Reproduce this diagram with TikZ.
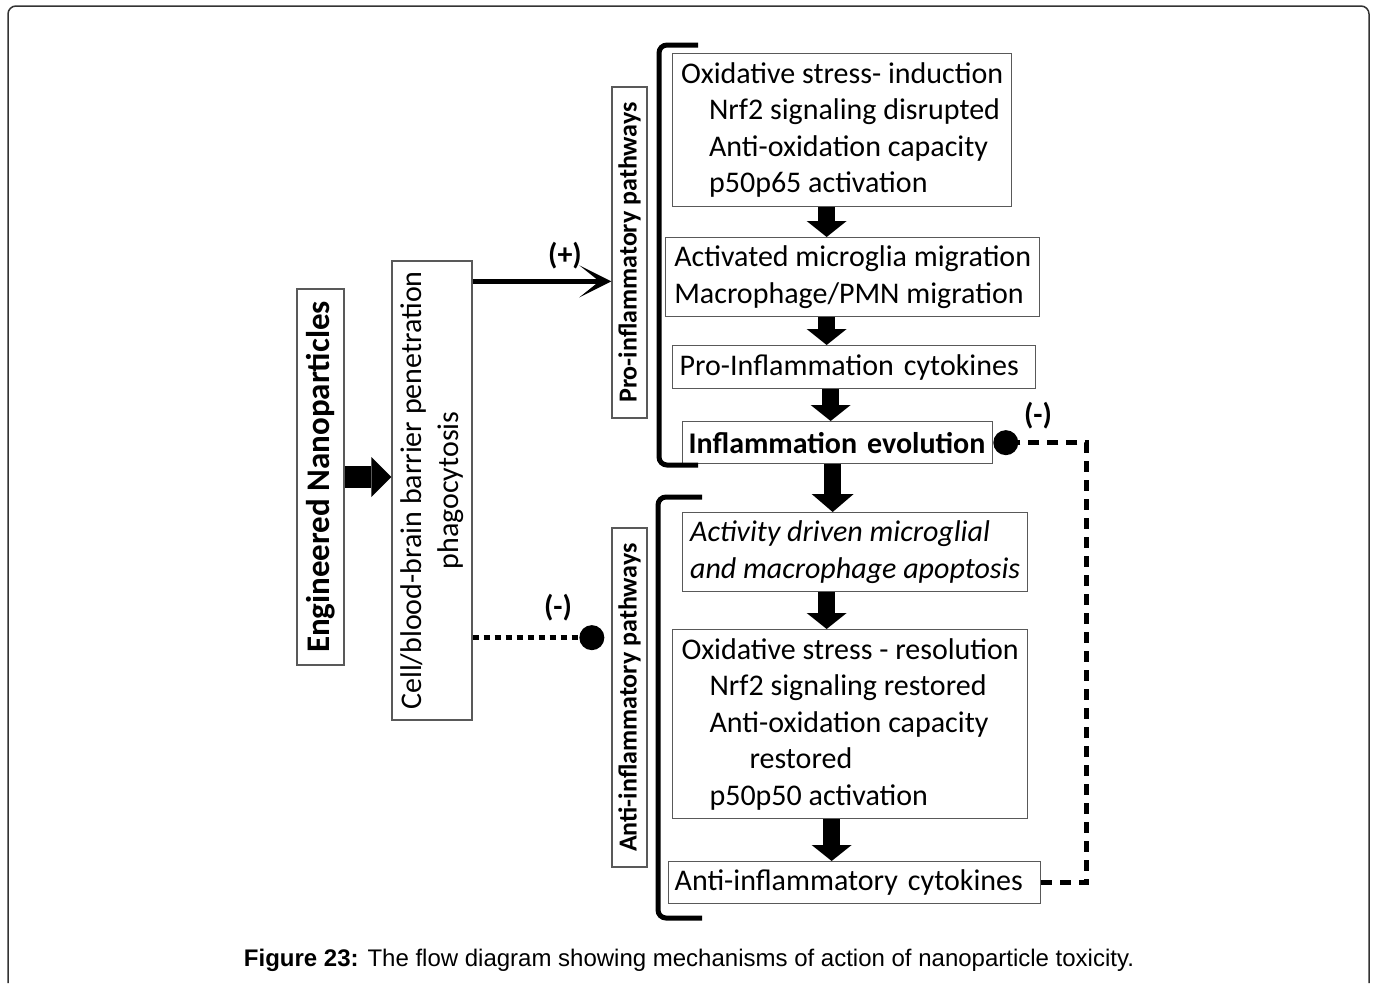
\documentclass[tikz,border=0pt]{standalone}
\usepackage{fontspec}
\setmainfont{Carlito}
\newfontfamily\capfont{Liberation Sans}
\usepackage{tikz}
\usetikzlibrary{arrows.meta, positioning, calc}
\tikzset{
  stepbox/.style={rectangle, draw=black!65, line width=1.3pt, inner xsep=7pt, inner ysep=0pt, align=left, anchor=north west, font=\fontsize{30}{36.5}\selectfont},
  sidebox/.style={rectangle, draw=black!65, line width=1.3pt, inner sep=0pt, rotate=90, align=center, font=\fontsize{30}{36.5}\selectfont},
  pathbox/.style={sidebox, minimum height=35pt, font=\fontsize{26}{30}\selectfont\bfseries},
  blockarr/.style={line width=17pt, -{Triangle[length=16pt, width=40pt, line width=0pt]}},
  actarr/.style={line width=5pt, -{Stealth[length=32pt, width=32pt, inset=20pt]}},
  inhib/.style={line width=5pt, -{Circle[length=25pt, line width=0pt]}},
  signlbl/.style={font=\fontsize{30}{36}\selectfont\bfseries, inner sep=0pt},
  bracket/.style={line width=5pt, rounded corners=8pt},
}
\begin{document}
\begin{tikzpicture}[x=1pt, y=-1pt]
  \useasboundingbox (0,0) rectangle (1375,983);
  % frame round the figure
  \draw[black!80, line width=1.5pt, rounded corners=8pt] (8,983) -- (8,6) -- (1369,6) -- (1369,983);

  % left column
  \node[sidebox, minimum width=376pt, minimum height=47pt, font=\fontsize{33}{40}\selectfont\bfseries] (eng) at (320.5,477) {Engineered Nanoparticles};
  \node[sidebox, minimum width=459pt, minimum height=80pt] (cell) at (432,490.5) {Cell/blood-brain barrier penetration\\phagocytosis};
  \node[pathbox, minimum width=331pt] (pro) at (629.5,252.5) {Pro-inflammatory pathways};
  \node[pathbox, minimum width=339pt] (anti) at (629.5,697.5) {Anti-inflammatory pathways};

  % pro-inflammatory chain
  \node[stepbox, minimum width=339pt, minimum height=153pt] (b1) at (672,53) {Oxidative stress- induction\\\hspace*{28pt}Nrf2 signaling disrupted\\\hspace*{28pt}Anti-oxidation capacity\\\hspace*{28pt}p50p65 activation};
  \node[stepbox, minimum width=374pt, minimum height=79pt] (b2) at (665,237) {Activated microglia migration\\Macrophage/PMN migration};
  \node[stepbox, text width=349pt, minimum height=43pt] (b3) at (672,345) {Pro-Inflammation cytokines};
  \node[stepbox, inner xsep=6pt, text width=298pt, minimum height=42pt, font=\fontsize{30}{36.5}\selectfont\bfseries] (b4) at (682,421) {Inflammation evolution};

  % anti-inflammatory chain
  \node[stepbox, minimum width=345pt, minimum height=79pt, font=\fontsize{30}{36.5}\selectfont\itshape] (b5) at (682,512) {Activity driven microglial\\and macrophage apoptosis};
  \node[stepbox, minimum width=355pt, minimum height=189pt] (b6) at (672,629) {Oxidative stress - resolution\\\hspace*{28pt}Nrf2 signaling restored\\\hspace*{28pt}Anti-oxidation capacity\\\hspace*{68pt}restored\\\hspace*{28pt}p50p50 activation};
  \node[stepbox, inner xsep=6pt, text width=360pt, minimum height=42pt] (b7) at (668,861) {Anti-inflammatory cytokines};

  % brackets
  \draw[bracket] (698,45) -- (659,45) -- (659,465) -- (698,465);
  \draw[bracket] (702,497) -- (658,497) -- (658,918) -- (702,918);

  % block arrows
  \draw[line width=22pt, -{Triangle[length=20pt, width=40pt, line width=0pt]}] (eng.south) -- (eng.south -| cell.north);
  \coordinate (a1) at ([xshift=-15.5pt]b1.south);
  \coordinate (a2) at ([xshift=-26pt]b2.south);
  \coordinate (a3) at ([xshift=-23.5pt]b3.south);
  \coordinate (a4) at ([xshift=-5pt]b4.south);
  \coordinate (a5) at ([xshift=-28.5pt]b5.south);
  \coordinate (a6) at ([xshift=-18.5pt]b6.south);
  \draw[blockarr] (a1) -- (a1 |- b2.north);
  \draw[blockarr] (a2) -- (a2 |- b3.north);
  \draw[blockarr] (a3) -- (a3 |- b4.north);
  \draw[blockarr, -{Triangle[length=18pt, width=42pt, line width=0pt]}] (a4) -- (a4 |- b5.north);
  \draw[blockarr] (a5) -- (a5 |- b6.north);
  \draw[blockarr] (a6) -- (a6 |- b7.north);

  % activation and inhibition
  \coordinate (plusstart) at ([yshift=-21pt]cell.south east);
  \draw[actarr] (plusstart) -- (plusstart -| pro.north);
  \node[signlbl] (plus) at (565,256) {(+)};
  \coordinate (minusstart) at ([yshift=83pt]cell.south west);
  \draw[inhib, dash pattern=on 6pt off 5pt, shorten >=7pt] (minusstart) -- (minusstart -| anti.north);
  \node[signlbl] (minus) at (558,608) {(-)};
  \draw[inhib, dash pattern=on 11pt off 8pt] (b7.east) -- ++(45,0) |- (b4.east);
  \node[signlbl] (feedback) at (1038,416) {(-)};

  % caption
  \node[font=\capfont\fontsize{24}{28}\selectfont] (caption) at (689,960) {\textbf{Figure 23:} The flow diagram showing mechanisms of action of nanoparticle toxicity.};
\end{tikzpicture}
\end{document}
